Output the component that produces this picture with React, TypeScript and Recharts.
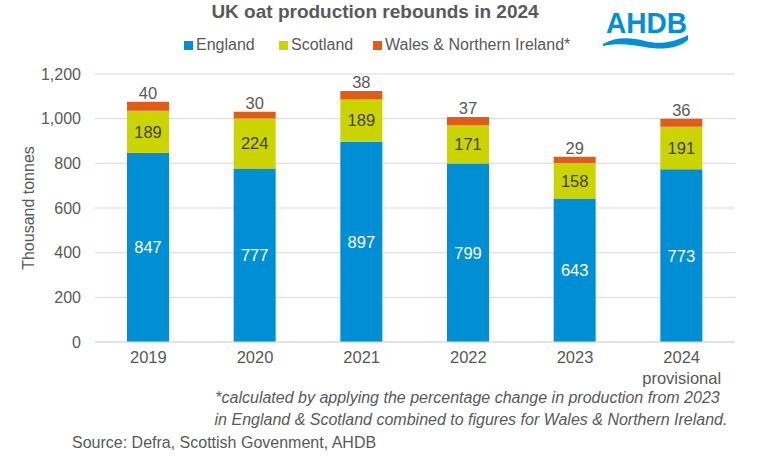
import React from "react";
import { BarChart, Bar, XAxis, YAxis, CartesianGrid, LabelList } from "recharts";

const years = ["2019", "2020", "2021", "2022", "2023", "2024"];
const yearTickLabels = ["2019", "2020", "2021", "2022", "2023", "2024\nprovisional"];
const england = [847, 777, 897, 799, 643, 773];
const scotland = [189, 224, 189, 171, 158, 191];
const walesNI = [40, 30, 38, 37, 29, 36];
const yTicks = [0, 200, 400, 600, 800, 1000, 1200];

const seriesNames = ["England", "Scotland", "Wales & Northern Ireland*"];
const colors = ["#008FD5", "#CCD400", "#E05C1A"];

const title = "UK oat production rebounds in 2024";
const yAxisTitle = "Thousand tonnes";
const footnote1 = "*calculated by applying the percentage change in production from 2023";
const footnote2 = "in England & Scotland combined to figures for Wales & Northern Ireland.";
const source = "Source: Defra, Scottish Govenment, AHDB";

const data = years.map((y, i) => ({
  year: y,
  england: england[i],
  scotland: scotland[i],
  wales: walesNI[i],
}));

const FONT = "'Liberation Sans', Arial, sans-serif";
const GRAY = "#595959";

const XTick = (props: any) => {
  const { x, y, payload, index } = props;
  const label = yearTickLabels[index] ?? payload.value;
  const lines = String(label).split("\n");
  return (
    <g>
      {lines.map((l, i) => (
        <text
          key={i}
          x={x}
          y={y + 13 + i * 21}
          textAnchor="middle"
          fill={GRAY}
          fontSize={16.5}
          fontFamily={FONT}
        >
          {l}
        </text>
      ))}
    </g>
  );
};

const fmt = (v: any) => Number(v).toLocaleString("en-GB");

const legendSquareX = [184, 279, 373];

export default function App() {
  return (
    <div style={{ position: "absolute", left: 0, top: 0, width: 758, height: 467, background: "#fff", fontFamily: FONT }}>
      <BarChart
        width={758}
        height={467}
        data={data}
        margin={{ top: 74, right: 23, bottom: 85, left: 0 }}
        barSize={42}
      >
        <CartesianGrid vertical={false} stroke="#D9D9D9" />
        <XAxis
          dataKey="year"
          height={40}
          tickLine={false}
          axisLine={{ stroke: "#D9D9D9" }}
          tick={<XTick />}
          interval={0}
        />
        <YAxis
          width={95}
          domain={[0, 1200]}
          ticks={yTicks}
          tickLine={false}
          axisLine={false}
          tickMargin={8}
          tickFormatter={fmt}
          tick={{ fill: GRAY, fontSize: 16, fontFamily: FONT }}
          label={{
            content: (p: any) => {
              const vb = p.viewBox;
              const cy = vb.y + vb.height / 2;
              return (
                <text
                  x={28}
                  y={cy}
                  transform={`rotate(-90, 28, ${cy})`}
                  textAnchor="middle"
                  dominantBaseline="central"
                  fill={GRAY}
                  fontSize={16}
                  fontFamily={FONT}
                >
                  {yAxisTitle}
                </text>
              );
            },
          }}
        />
        <Bar dataKey="england" stackId="a" fill={colors[0]} isAnimationActive={false}>
          <LabelList dataKey="england" position="center" fill="#FFFFFF" fontSize={16.5} fontFamily={FONT} />
        </Bar>
        <Bar dataKey="scotland" stackId="a" fill={colors[1]} isAnimationActive={false}>
          <LabelList dataKey="scotland" position="center" fill="#404040" fontSize={16.5} fontFamily={FONT} />
        </Bar>
        <Bar dataKey="wales" stackId="a" fill={colors[2]} isAnimationActive={false}>
          <LabelList dataKey="wales" position="top" offset={3} fill={GRAY} fontSize={16.5} fontFamily={FONT} />
        </Bar>
      </BarChart>

      <div style={{ position: "absolute", left: 0, width: 750, top: 1, textAlign: "center", fontWeight: "bold", fontSize: 19, color: GRAY }}>
        {title}
      </div>

      {seriesNames.map((n, i) => (
        <div
          key={n}
          style={{ position: "absolute", top: 35, left: legendSquareX[i], display: "flex", alignItems: "center", fontSize: 16, color: GRAY, whiteSpace: "nowrap", height: 20 }}
        >
          <span style={{ display: "inline-block", width: 9, height: 9, background: colors[i], marginRight: 3 }} />
          <span>{n}</span>
        </div>
      ))}

      <svg style={{ position: "absolute", left: 590, top: 0 }} width={120} height={56}>
        <text x={16} y={33} fill="#008FD5" fontSize={29} fontFamily={FONT} fontWeight="bold" textLength={81} lengthAdjust="spacingAndGlyphs">AHDB</text>
        <path d="M13,44 C25,37 40,37 55,41 C70,45 85,42 98,35 L98,40 C88,49 70,50 55,47 C40,44 25,43 13,46 Z" fill="#008FD5" />
      </svg>

      <div style={{ position: "absolute", left: 215, width: 505, top: 387, textAlign: "center", fontStyle: "italic", fontSize: 16, color: GRAY, lineHeight: "22px", whiteSpace: "nowrap" }}>
        {footnote1}
      </div>
      <div style={{ position: "absolute", left: 213, width: 516, top: 409, textAlign: "center", fontStyle: "italic", fontSize: 16, color: GRAY, lineHeight: "22px", whiteSpace: "nowrap" }}>
        {footnote2}
      </div>

      <div style={{ position: "absolute", left: 72, top: 434, fontSize: 16, color: GRAY, whiteSpace: "nowrap" }}>
        {source}
      </div>
    </div>
  );
}
